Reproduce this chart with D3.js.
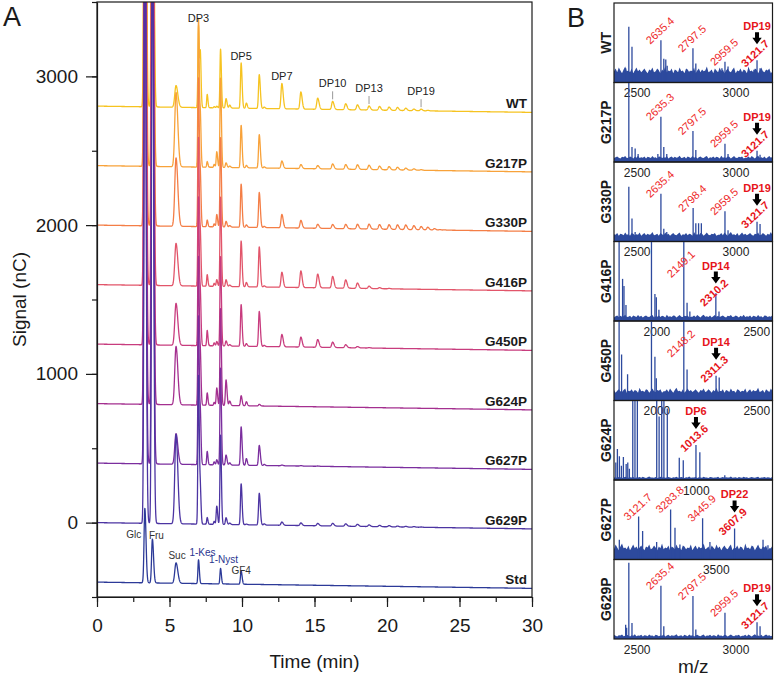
<!DOCTYPE html>
<html><head><meta charset="utf-8">
<script src="https://cdn.jsdelivr.net/npm/d3@7"></script>
<style>body{margin:0;background:#fff}svg{display:block}text{font-family:Arial,"Liberation Sans",Helvetica,sans-serif}</style>
</head><body><svg id="c" width="776" height="676"></svg>
<script>
// ================= Panel A data =================
const traceNames   = ["WT","G217P","G330P","G416P","G450P","G624P","G627P","G629P","Std"];
const traceColors  = ["#f6c320","#f8a23a","#f47e46","#e2556a","#c83c7e","#a42f8f","#7b2e9e","#4c34a2","#2c3a98"];
const traceOffsets = [2800,2400,2000,1600,1200,800,400,0,-400];
const baselineDrift = -42;  // signal change from 0 to 30 min
// retention times (min) of the resolved peaks
const peakTimes  = [3.30,3.82,5.45,7.00,7.13,7.60,8.08,8.26,8.52,8.90,9.15,9.94,10.30,11.19,11.53,
                    12.75,14.06,15.22,16.25,17.15,17.96,18.76,19.48,20.14,20.72,21.29,21.85,22.35,22.81,23.27,23.64,23.96];
const peakSigmas = [0.055,0.055,0.085,0.04,0.035,0.035,0.035,0.04,0.04,0.045,0.045,0.045,0.045,0.05,0.045,
                    0.06,0.06,0.065,0.065,0.065,0.065,0.065,0.065,0.065,0.065,0.065,0.065,0.065,0.065,0.065,0.065,0.065];
// peak heights (nC) per trace
const heightsWT    = [4500,4300,146,552,338,90,8,11,395,63,20,304,35,228,10,170,115,75,55,40,34,27,25,22,20,16,11,11,4,0,0,0];
const heightsG217P = [4500,4300,500,1000,300,38,20,105,600,31,10,285,16,224,8,49,27,22,34,31,31,29,24,22,18,13,9,4,0,0,0,0];
const heightsG330P = [4500,4300,460,1000,300,45,20,83,600,38,10,290,16,235,8,90,52,27,27,29,31,33,31,31,31,31,27,22,18,9,3,2];
const heightsG416P = [4500,4300,285,1000,300,78,20,45,600,45,10,307,29,269,8,101,112,92,78,56,36,16,7,3,0,0,0,0,0,0,0,0];
const heightsG450P = [4500,4300,282,1000,300,103,20,29,600,34,10,280,18,235,8,83,67,52,36,20,9,3,0,0,0,0,0,0,0,0,0,0];
const heightsG624P = [4500,4300,392,1000,300,83,20,117,650,172,30,67,27,11,0,0,0,0,0,0,0,0,0,0,0,0,0,0,0,0,0,0];
const heightsG627P = [4500,4300,206,1000,300,90,20,34,650,67,15,258,45,135,8,5,3,2,0,0,0,0,0,0,0,0,0,0,0,0,0,0];
const heightsG629P = [4500,4300,600,1000,200,45,20,123,600,45,10,275,5,213,8,22,18,16,18,16,14,11,9,8,6,5,4,2,0,0,0,0];
const heightsStd   = [500,295,137,160,0,0,0,0,104,0,0,90,0,0,0,0,0,0,0,0,0,0,0,0,0,0,0,0,0,0,0,0];
const traceHeights = [heightsWT,heightsG217P,heightsG330P,heightsG416P,heightsG450P,heightsG624P,heightsG627P,heightsG629P,heightsStd];
const xTicksA = [0,5,10,15,20,25,30];
const yTicksA = [0,1000,2000,3000];
const dpLabels = [["DP3",7.00,false],["DP5",9.94,false],["DP7",12.75,false],["DP10",16.25,true],["DP13",18.76,true],["DP19",22.35,true]];
const stdLabels = [["Glc",0],["Fru",1],["Suc",2],["1-Kes",3],["1-Nyst",8],["GF4",11]];

// ================= Panel B data =================
const msNames   = ["WT","G217P","G330P","G416P","G450P","G624P","G627P","G629P"];
const msDomains = [[2398,3200],[2398,3200],[2398,3200],[1800,2594],[1800,2594],[603,1397],[2997,3800],[2398,3200]];
const msTicks   = [[2500,3000],[2500,3000],[2500,3000],[2000,2500],[2000,2500],[1000],[3500],[2500,3000]];
const msPeaks = [
  [[2457,18],[2473,70],[2489,45],[2505,14],[2620,16],[2635.4,53],[2650,30],[2660,29],[2667,21],[2782,14],[2797.5,43],[2812,24],[2944,18],[2959.5,26],[2975,20],[3106,16],[3121.7,28],[3137,18]],
  [[2473,100],[2489,19],[2505,17],[2520,10],[2620,10],[2635.3,57],[2650,19],[2665,10],[2797.5,39],[2812,15],[2959.5,23],[2975,10],[3121.7,14],[3137,9]],
  [[2473,69],[2489,29],[2505,12],[2635.4,60],[2650,16],[2665,12],[2798.4,42],[2812,23],[2826,23],[2840,23],[2959.5,38],[2975,14],[3121.7,25],[3137,22]],
  [[1825.6,105],[1843,53],[1850,44],[1860,20],[1987.7,105],[2005,34],[2012,30],[2025,14],[2149.7,105],[2166,23],[2180,12],[2310.2,35],[2326,12]],
  [[1825.6,105],[1838,58],[1868,33],[1987.7,105],[2005,55],[2012,28],[2149.7,105],[2166,39],[2311.3,31],[2327,29]],
  [[612,22],[620,39],[630,30],[640,18],[650,29],[664,20],[672,22],[680,14],[697,105],[708,105],[720,105],[817,105],[829,80],[842,105],[853,105],[870,90],[930,28],[950,25],[1013.6,44],[1033,35],[1158,6]],
  [[3024,25],[3121.7,54],[3142,36],[3213,22],[3283.8,63],[3306,40],[3331,19],[3445.9,52],[3483,22],[3607.9,39],[3752,25],[3777,18]],
  [[2457,18],[2462,14],[2473,96],[2489,20],[2635.4,67],[2650,16],[2797.5,54],[2812,12],[2959.5,33],[3121.7,21],[3137,16]]
];
const msLabels = [
  [[2635.4,"2635.4"],[2797.5,"2797.5"],[2959.5,"2959.5"]],
  [[2635.3,"2635.3"],[2797.5,"2797.5"],[2959.5,"2959.5"]],
  [[2635.4,"2635.4"],[2798.4,"2798.4"],[2959.5,"2959.5"]],
  [[2149.7,"2149.1"]],
  [[2149.7,"2148.2"]],
  [],
  [[3121.7,"3121.7"],[3283.8,"3283.8"],[3445.9,"3445.9"]],
  [[2635.4,"2635.4"],[2797.5,"2797.5"],[2959.5,"2959.5"]]
];
const msTargets = [[3121.7,"DP19","3121.7"],[3121.7,"DP19","3121.7"],[3121.7,"DP19","3121.7"],[2310.2,"DP14","2310.2"],
                   [2311.3,"DP14","2311.3"],[1013.6,"DP6","1013.6"],[3607.9,"DP22","3607.9"],[3121.7,"DP19","3121.7"]];
const msNoiseBase = [8,3,5,3,7,1.5,8,2];
const msNoiseAmp  = [12,5,7,5,9,3,12,4];
const noisePattern = [0.5,0.8,0.4,0.9,0.6,0.3,0.7,1.0,0.5,0.6,0.4,0.8,0.3,0.6,0.9,0.5,0.7,0.4,0.6,0.8,
  0.5,0.3,0.7,0.6,0.9,0.4,0.5,0.8,0.6,0.3,0.7,0.5,1.0,0.4,0.6,0.5,0.8,0.3,0.7,0.6,
  0.4,0.9,0.5,0.6,0.3,0.8,0.7,0.4,0.6,0.5,0.9,0.3,0.6,0.8,0.4,0.7,0.5,0.6,1.0,0.4,
  0.5,0.7,0.3,0.8,0.6,0.4,0.9,0.5,0.7,0.3,0.6,0.8,0.5,0.4,0.7,0.9,0.3,0.6,0.5,0.8,
  0.4,0.7,0.6,0.3,1.0,0.5,0.6,0.4,0.8,0.7,0.3,0.6,0.9,0.5,0.4,0.7,0.6,0.8,0.3,0.5];

// ================= drawing =================
const svg = d3.select("#c");
const defs = svg.append("defs");
const ink = "#1a1a1a";

// ---------- Panel A ----------
const xA = d3.scaleLinear().domain([0,30]).range([97,532]);
const yA = d3.scaleLinear().domain([-500,3500]).range([597,2]);
defs.append("clipPath").attr("id","clipA").append("rect")
  .attr("x",xA(0)).attr("y",yA(3500)).attr("width",xA(30)-xA(0)).attr("height",yA(-500)-yA(3500));

function signal(ti, t){
  const hs = traceHeights[ti];
  let v = traceOffsets[ti] + baselineDrift*t/30;
  for(let k=0;k<peakTimes.length;k++){
    const h=hs[k]; if(!h) continue;
    const s = peakSigmas[k]*(t>peakTimes[k]?1.45:1);
    const d=(t-peakTimes[k])/s;
    if(Math.abs(d)<9) v += h*Math.exp(-0.5*d*d);
  }
  return v;
}
const tGrid = d3.range(0,30.0001,0.01);
const line = d3.line().x(d=>xA(d[0])).y(d=>yA(d[1]));
const gTr = svg.append("g").attr("clip-path","url(#clipA)");
traceNames.forEach((n,ti)=>{
  gTr.append("path").attr("d",line(tGrid.map(t=>[t,signal(ti,t)])))
    .attr("fill","none").attr("stroke",traceColors[ti]).attr("stroke-width",1.3).attr("stroke-linejoin","round");
});
// trace labels
svg.append("g").selectAll("text").data(traceNames).join("text")
  .attr("x",xA(30)-5).attr("y",(d,i)=>yA(signal(i,30))-4)
  .attr("text-anchor","end").attr("font-weight","bold").attr("font-size",13.5).attr("fill",ink).text(d=>d);

// DP annotations on WT trace
dpLabels.forEach(([lab,t,withLine])=>{
  const top = yA(signal(0,t));
  if(withLine){
    svg.append("line").attr("x1",xA(t)).attr("x2",xA(t)).attr("y1",top-10).attr("y2",top-2)
      .attr("stroke","#999").attr("stroke-width",1);
    svg.append("text").attr("x",xA(t)).attr("y",top-14).attr("text-anchor","middle")
      .attr("font-size",11).attr("fill","#222").text(lab);
  } else {
    svg.append("text").attr("x",xA(t)).attr("y",top-3).attr("text-anchor","middle")
      .attr("font-size",11).attr("fill","#222").text(lab);
  }
});
// Std labels
const stdLayout = {"Glc":[-11,30],"Fru":[4,0],"Suc":[1,-4],"1-Kes":[4,-4],"1-Nyst":[3,-5],"GF4":[0,3]};
const stdColor = {"Glc":"#333","Fru":"#333","Suc":"#333","1-Kes":"#2b3590","1-Nyst":"#2b3590","GF4":"#333"};
stdLabels.forEach(([lab,k])=>{
  const t=peakTimes[k], top=yA(signal(8,t)), o=stdLayout[lab];
  svg.append("text").attr("x",xA(t)+o[0]).attr("y",top+o[1]).attr("text-anchor","middle")
    .attr("font-size",10).attr("fill",stdColor[lab]).text(lab);
});

// axes
const axStyle = g=>{g.selectAll("path,line").attr("stroke",ink).attr("stroke-width",1.2);
  g.selectAll("text").attr("fill",ink).attr("font-size",19).attr("font-family","Arial, 'Liberation Sans', sans-serif");};
svg.append("g").attr("transform",`translate(0,${yA(-500)})`)
  .call(d3.axisBottom(xA).tickValues(d3.range(0,30.01,2.5)).tickSize(5).tickFormat(""))
  .call(g=>g.select(".domain").remove()).call(axStyle);
svg.append("g").attr("transform",`translate(0,${yA(-500)})`)
  .call(d3.axisBottom(xA).tickValues(xTicksA).tickSize(10).tickSizeOuter(0).tickPadding(12).tickFormat(d3.format("d")))
  .call(axStyle);
svg.append("g").attr("transform",`translate(${xA(0)},0)`)
  .call(d3.axisLeft(yA).tickValues(d3.range(-500,3501,500)).tickSize(5).tickFormat(""))
  .call(g=>g.select(".domain").remove()).call(axStyle);
svg.append("g").attr("transform",`translate(${xA(0)},0)`)
  .call(d3.axisLeft(yA).tickValues(yTicksA).tickSize(11).tickSizeOuter(0).tickPadding(8).tickFormat(d3.format("d")))
  .call(axStyle);
svg.append("rect").attr("x",xA(0)).attr("y",yA(3500)).attr("width",xA(30)-xA(0)).attr("height",yA(-500)-yA(3500))
  .attr("fill","none").attr("stroke",ink).attr("stroke-width",1.2);
svg.append("text").attr("x",(xA(0)+xA(30))/2).attr("y",668).attr("text-anchor","middle")
  .attr("font-size",19).attr("fill",ink).text("Time (min)");
svg.append("text").attr("transform",`translate(26,${(yA(3500)+yA(-500))/2}) rotate(-90)`).attr("text-anchor","middle")
  .attr("font-size",19).attr("fill",ink).text("Signal (nC)");
svg.append("text").attr("x",3).attr("y",26).attr("font-size",27).attr("fill",ink).text("A");
svg.append("text").attr("x",567).attr("y",27).attr("font-size",27).attr("fill",ink).text("B");

// ---------- Panel B ----------
const bx0=614, bx1=772.5, bTop=3, bH=79.5;
const msBlue="#2d4a9e", red="#ee2a2a", redB="#e6141a";
const under = svg.append("g"), over = svg.append("g");
function arrow(x,y0,y1){ // black down arrow from y0 to y1
  const hw=4.7, sw=2, hl=6.5;
  return `M${x-sw},${y0}L${x+sw},${y0}L${x+sw},${y1-hl}L${x+hw},${y1-hl}L${x},${y1}L${x-hw},${y1-hl}L${x-sw},${y1-hl}Z`;
}
const tickLabelX = []; // x positions of each panel's tick labels
msNames.forEach((name,i)=>{
  const top=bTop+i*bH, bot=top+bH;
  const x=d3.scaleLinear().domain(msDomains[i]).range([bx0,bx1]);
  const y=d3.scaleLinear().domain([0,100]).range([bot,top]);
  tickLabelX[i] = msTicks[i].map(d=>x(d)+3);
  // tick labels (sit over the next panel, underneath its data)
  under.selectAll(null).data(msTicks[i]).join("text").attr("x",d=>x(d)+3).attr("y",bot+14.5)
    .attr("text-anchor","middle").attr("font-size",12).attr("fill","#222").text(d=>d);
  defs.append("clipPath").attr("id","cpB"+i).append("rect").attr("x",bx0).attr("y",top).attr("width",bx1-bx0).attr("height",bH);
  const g=over.append("g").attr("clip-path",`url(#cpB${i})`);
  const n=noisePattern.length, dom=msDomains[i];
  const pts=noisePattern.map((v,k)=>{const vv=noisePattern[(k+i*17)%n];
    return [dom[0]+(dom[1]-dom[0])*k/(n-1), msNoiseBase[i]+msNoiseAmp[i]*vv];});
  g.append("path").attr("d",d3.area().x(d=>x(d[0])).y0(y(0)).y1(d=>y(d[1]))(pts)).attr("fill",msBlue);
  g.selectAll("line").data(msPeaks[i]).join("line")
    .attr("x1",d=>x(d[0])).attr("x2",d=>x(d[0])).attr("y1",y(0)).attr("y2",d=>y(d[1]))
    .attr("stroke",msBlue).attr("stroke-width",1.3);
  over.append("rect").attr("x",bx0).attr("y",top).attr("width",bx1-bx0).attr("height",bH)
    .attr("fill","none").attr("stroke",ink).attr("stroke-width",1.2);
  over.append("text").attr("transform",`translate(611,${top+bH/2}) rotate(-90)`).attr("text-anchor","middle")
    .attr("font-weight","bold").attr("font-size",14).attr("fill",ink).text(name);
  const peakH = mz => { let best=msPeaks[i][0]; msPeaks[i].forEach(p=>{if(Math.abs(p[0]-mz)<Math.abs(best[0]-mz)) best=p;}); return best[1]; };
  msLabels[i].forEach(([mz,txt])=>{
    const h=peakH(mz); let cx=x(mz)-1, cy;
    if(h>=100){ cy=y(72); cx=x(mz)-3; } else cy=y(h)-10;
    over.append("text").attr("transform",`translate(${cx},${cy}) rotate(-43)`).attr("text-anchor","middle")
      .attr("dominant-baseline","central").attr("font-size",11).attr("fill",red).text(txt);
  });
  const [tmz,dp,txt]=msTargets[i];
  const pt=y(peakH(tmz)), tx=x(tmz);
  // keep the DP tag below the previous panel's tick labels when they are close
  const crowded = i>0 && tickLabelX[i-1].some(lx=>Math.abs(lx-tx)<32);
  const dpY = crowded ? Math.max(pt-30, top+28) : pt-30;
  const valY = Math.max(pt-7, dpY+23);
  over.append("text").attr("transform",`translate(${tx-2},${valY}) rotate(-43)`).attr("text-anchor","middle")
    .attr("dominant-baseline","central").attr("font-size",11).attr("font-weight","bold").attr("fill",redB).text(txt);
  over.append("path").attr("d",arrow(tx,dpY+2,dpY+14)).attr("fill","#000");
  over.append("text").attr("x",tx).attr("y",dpY).attr("text-anchor","middle")
    .attr("font-size",11).attr("font-weight","bold").attr("fill",redB).text(dp);
});
svg.append("text").attr("x",(bx0+bx1)/2).attr("y",673).attr("text-anchor","middle")
  .attr("font-size",19).attr("fill",ink).text("m/z");
</script></body></html>
